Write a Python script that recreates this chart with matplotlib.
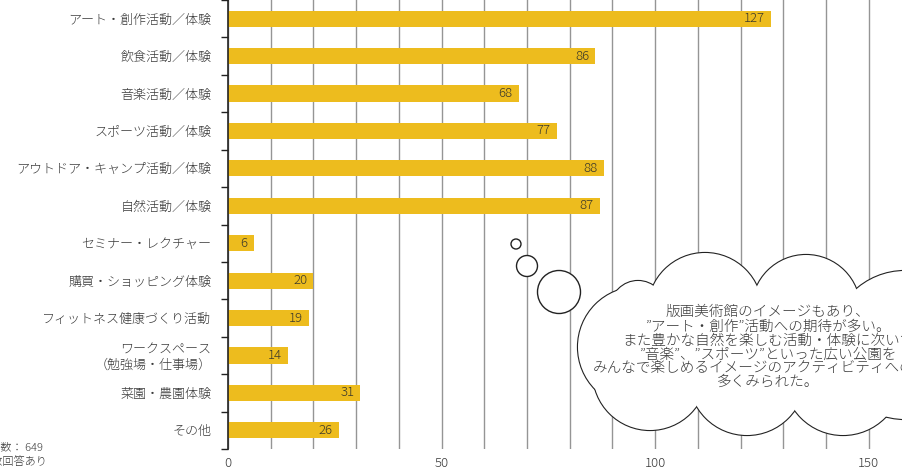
import matplotlib
matplotlib.use("Agg")
import matplotlib.pyplot as plt
from matplotlib.patches import Circle, Polygon
from matplotlib.ticker import MultipleLocator

plt.rcParams['font.family'] = ['Noto Sans CJK JP', 'DejaVu Sans']

# data, top to bottom
categories = [
    "アート・創作活動／体験",
    "飲食活動／体験",
    "音楽活動／体験",
    "スポーツ活動／体験",
    "アウトドア・キャンプ活動／体験",
    "自然活動／体験",
    "セミナー・レクチャー",
    "購買・ショッピング体験",
    "フィットネス健康づくり活動",
    "ワークスペース\n（勉強場・仕事場）",
    "菜園・農園体験",
    "その他",
]
counts = [127, 86, 68, 77, 88, 87, 6, 20, 19, 14, 31, 26]
x_ticks = [0, 50, 100, 150]

note_lines = ["回答者数： 649", "※複数回答あり"]
cloud_lines = [
    "版画美術館のイメージもあり、",
    "”アート・創作”活動への期待が多い。",
    "また豊かな自然を楽しむ活動・体験に次いで",
    "”音楽”、”スポーツ”といった広い公園を",
    "みんなで楽しめるイメージのアクティビティへの期待",
    "多くみられた。",
]

BAR = "#EDBC1E"
TXT = "#3a3a3a"
GRID = "#959595"
W = "light"

fig = plt.figure(figsize=(9.03, 4.70), dpi=100)
ax = fig.add_axes([228 / 903, 21 / 470, 1 - 228 / 903, 449 / 470])

ypos = list(range(len(categories)))
ax.barh(ypos, counts, height=0.43, color=BAR, zorder=2)
for y, v in zip(ypos, counts):
    ax.annotate(str(v), (v, y), xytext=(-4.5, 0), textcoords="offset points",
                ha="right", va="center", fontsize=9.5, color="#3d3a2a",
                fontweight=W, zorder=3)

ax.set_xlim(0, 158)
ax.set_ylim(len(categories) - 0.5, -0.5)

ax.set_xticks(x_ticks)
ax.xaxis.set_minor_locator(MultipleLocator(10))
ax.grid(True, axis="x", which="both", color=GRID, linewidth=1.0, zorder=0)
ax.tick_params(axis="x", which="both", length=0, pad=6, labelsize=9.5, labelcolor=TXT)

ax.set_yticks(ypos)
ax.set_yticklabels(categories, fontsize=9.4, color=TXT, fontweight=W)
ax.set_yticks([i - 0.5 for i in range(len(categories) + 1)], minor=True)
ax.tick_params(axis="y", which="major", length=0, pad=12)
ax.tick_params(axis="y", which="minor", length=5, width=1, color="#222222")
for lbl in ax.get_xticklabels():
    lbl.set_fontweight(W)

for s in ["top", "right", "bottom"]:
    ax.spines[s].set_visible(False)
ax.spines["left"].set_color("#222222")
ax.spines["left"].set_linewidth(1.2)
ax.spines["left"].set_zorder(4)

# bottom-left note, clipped at the figure edge
fig.text(43 / 903, 1 - 448 / 470, note_lines[0], ha="right", va="center",
         fontsize=8, color=TXT, fontweight=W)
fig.text(47 / 903, 1 - 463 / 470, note_lines[1], ha="right", va="center",
         fontsize=8, color=TXT, fontweight=W)

# speech cloud overlay in pixel space
ov = fig.add_axes([0, 0, 1, 1], zorder=5)
ov.set_xlim(0, 903)
ov.set_ylim(470, 0)
ov.axis("off")
ov.patch.set_alpha(0)

cloud = [(705, 310, 57), (806, 309, 54), (905, 345, 74), (638, 308, 27),
         (638, 347, 60), (650, 373, 57), (747, 377, 58), (843, 376, 59),
         (940, 370, 60)]
for cx, cy, r in cloud:
    ov.add_patch(Circle((cx, cy), r, facecolor="white", edgecolor="#222222",
                        linewidth=1.6, zorder=1))
for cx, cy, r in cloud:
    ov.add_patch(Circle((cx, cy), r, facecolor="white", edgecolor="none", zorder=2))
order = [3, 0, 1, 2, 8, 7, 6, 5, 4]
ov.add_patch(Polygon([cloud[i][:2] for i in order], closed=True,
                     facecolor="white", edgecolor="none", zorder=2))

bubbles = [(516, 244, 5), (527, 266, 10.5), (559, 292, 21.5)]
for cx, cy, r in bubbles:
    ov.add_patch(Circle((cx, cy), r, facecolor="white", edgecolor="#222222",
                        linewidth=1.0, zorder=3))

line_y = [312, 327, 341, 355, 368, 382]
for t, y in zip(cloud_lines, line_y):
    ov.text(768, y, t, ha="center", va="center", fontsize=10.5, color=TXT,
            fontweight=W, zorder=4)

fig.savefig("out.png", dpi=100)
